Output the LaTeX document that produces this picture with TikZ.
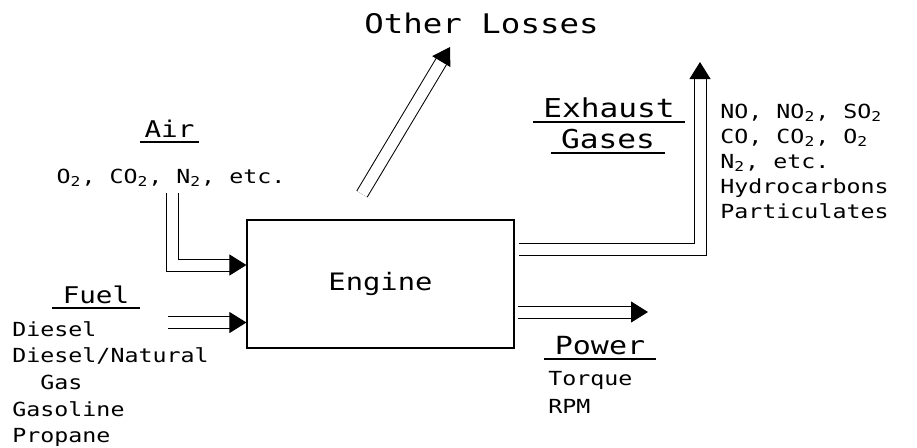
\documentclass[tikz,border=0pt]{standalone}
\usepackage{fontspec}
\setmainfont{DejaVu Sans Mono}[FakeStretch=1.2]
\usetikzlibrary{arrows.meta}

\begin{document}
\begin{tikzpicture}[x=0.5pt, y=-0.5pt,
    every node/.style={inner sep=0pt},
    block/.style={draw, line width=0.6pt, minimum width=133.5pt, minimum height=64pt,
                  font=\fontsize{12}{14}\selectfont},
    head/.style={anchor=south, inner xsep=5pt, inner ysep=2pt,
                 append after command={(\tikzlastnode.south west) edge[line width=0.6pt] (\tikzlastnode.south east)}},
    item/.style={anchor=base west, font=\fontsize{9.7}{11}\selectfont},
    pipe/.style={double, double distance=5.5pt, line width=0.5pt,
                 -{Triangle[length=8.5pt, width=10.5pt]}}]
\useasboundingbox (0,0) rectangle (917,447);

% engine and labels
\node[block] (engine) at (380.5,284) {Engine};
\node[anchor=base, font=\fontsize{13.5}{15}\selectfont] (loss) at (481.5,33) {Other Losses};
\node[head, inner xsep=2pt, font=\fontsize{11.5}{13}\selectfont] (air) at (169.5,142) {Air};
\node[anchor=base, font=\fontsize{9.7}{11}\selectfont] (airgas) at (171,183)
    {O\textsubscript{2}, CO\textsubscript{2}, N\textsubscript{2}, etc.};
\node[head, font=\fontsize{11.5}{13}\selectfont] (fuel) at (96,308) {Fuel};
\node[head, font=\fontsize{13}{15}\selectfont] (exhaust) at (609,122) {Exhaust};
\node[head, font=\fontsize{13}{15}\selectfont] (gases) at (608,153) {Gases};
\node[head, font=\fontsize{12.5}{14}\selectfont] (power) at (600,359) {Power};

% lists
\foreach \txt [count=\i from 0] in {Diesel, Diesel/Natural, \phantom{Di}Gas, Gasoline, Propane}
    \node[item] (fuel\i) at (12,{336+26.7*\i}) {\txt};
\foreach \txt [count=\i from 0] in {{NO, NO\textsubscript{2}, SO\textsubscript{2}},
        {CO, CO\textsubscript{2}, O\textsubscript{2}}, {N\textsubscript{2}, etc.},
        Hydrocarbons, Particulates}
    \node[item] (exh\i) at (720,{118+25*\i}) {\txt};
\node[item] (torque) at (548,385) {Torque};
\node[item] (rpm) at (548,413) {RPM};

% flow ends
\coordinate (airtop) at (172.5,193);
\coordinate (airbend) at (172.5,265);
\coordinate (fuelin) at (168,322.5);
\coordinate (exbend) at (700,249);
\coordinate (exout) at (700,62);
\coordinate (powout) at (648,312);
\coordinate (lossin) at (362,194);
\coordinate (lossout) at (450,47);

% flows
\draw[pipe] (airtop) -- (airbend) -- (airbend -| engine.west);
\draw[pipe] (fuelin) -- (fuelin -| engine.west);
\draw[pipe] ([xshift=2pt]exbend -| engine.east) -- (exbend) -- (exout);
\draw[pipe] ([xshift=1.5pt]powout -| engine.east) -- (powout);
\draw[pipe] (lossin) -- (lossout);
\end{tikzpicture}
\end{document}
